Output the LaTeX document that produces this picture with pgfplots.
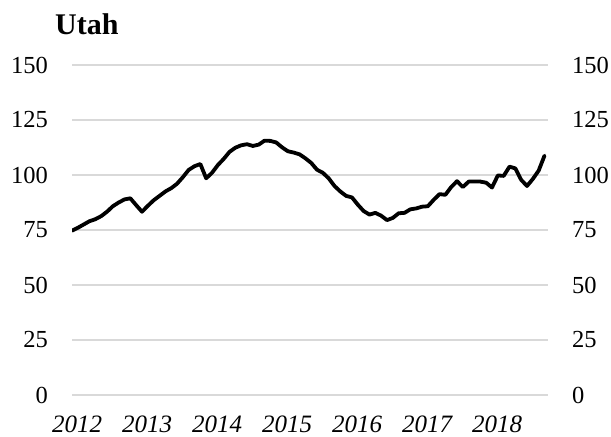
\documentclass[border=0pt]{standalone}
\usepackage{pgfplots}
\pgfplotsset{compat=1.18}
\usepackage{fontspec}
\setmainfont{Liberation Serif}
\definecolor{gridc}{RGB}{217,217,217}
\begin{document}
\begin{tikzpicture}
\useasboundingbox (0,0) rectangle (611bp,437bp);
\pgfplotsset{
  base/.style={
    at={(72bp,42bp)}, anchor=south west,
    scale only axis, width=476bp, height=330bp,
    xmin=0, xmax=81.6, ymin=0, ymax=150,
    ytick={0,25,...,150},
    axis line style={draw=none}, tick style={draw=none},
    /pgf/number format/assume math mode=true,
    ticklabel style={font=\fontsize{24.5bp}{28bp}\selectfont},
  }
}
\begin{axis}[base,
  ymajorgrids, major grid style={gridc, line width=1.8bp},
  xtick={0,12,...,72},
  xticklabels={2012,2013,2014,2015,2016,2017,2018},
  xticklabel style={anchor=north, inner sep=0pt, yshift=-21bp, xshift=5bp, font=\fontsize{25bp}{28bp}\selectfont\itshape},
  yticklabel style={anchor=east, inner sep=0pt, xshift=-24bp},
]
\addplot[black, line width=3.8bp, line join=round, line cap=round] coordinates {
(0,74.7)(1,76)(2,77.5)(3,79)(4,79.9)(5,81.3)(6,83.3)(7,85.8)(8,87.5)(9,88.9)
(10,89.4)(11,86.3)(12,83.3)(13,86)(14,88.5)(15,90.5)(16,92.5)(17,94)(18,96)(19,99)
(20,102.3)(21,104)(22,105)(23,98.5)(24,101)(25,104.5)(26,107.3)(27,110.5)(28,112.4)(29,113.5)
(30,114)(31,113.2)(32,113.8)(33,115.6)(34,115.5)(35,114.8)(36,112.6)(37,110.8)(38,110.2)(39,109.4)
(40,107.6)(41,105.5)(42,102.4)(43,101)(44,98.5)(45,95)(46,92.5)(47,90.5)(48,89.8)(49,86.5)
(50,83.6)(51,82)(52,82.8)(53,81.5)(54,79.5)(55,80.5)(56,82.6)(57,82.8)(58,84.4)(59,84.8)
(60,85.6)(61,85.8)(62,88.7)(63,91.3)(64,91)(65,94.5)(66,97.2)(67,94.5)(68,97)(69,97)
(70,97)(71,96.5)(72,94.3)(73,99.8)(74,99.6)(75,103.8)(76,103)(77,97.8)(78,95)(79,98.2)
(80,102)(81,108.8)
};
\end{axis}
\begin{axis}[base,
  xtick=\empty,
  yticklabel pos=right,
  yticklabel style={anchor=west, inner sep=0pt, xshift=24bp},
]
\addplot[draw=none] coordinates {(0,0)};
\end{axis}
\node[anchor=base west, inner sep=0pt, font=\fontsize{30bp}{34bp}\selectfont\bfseries] at (55bp,402bp) {Utah};
\end{tikzpicture}
\end{document}
